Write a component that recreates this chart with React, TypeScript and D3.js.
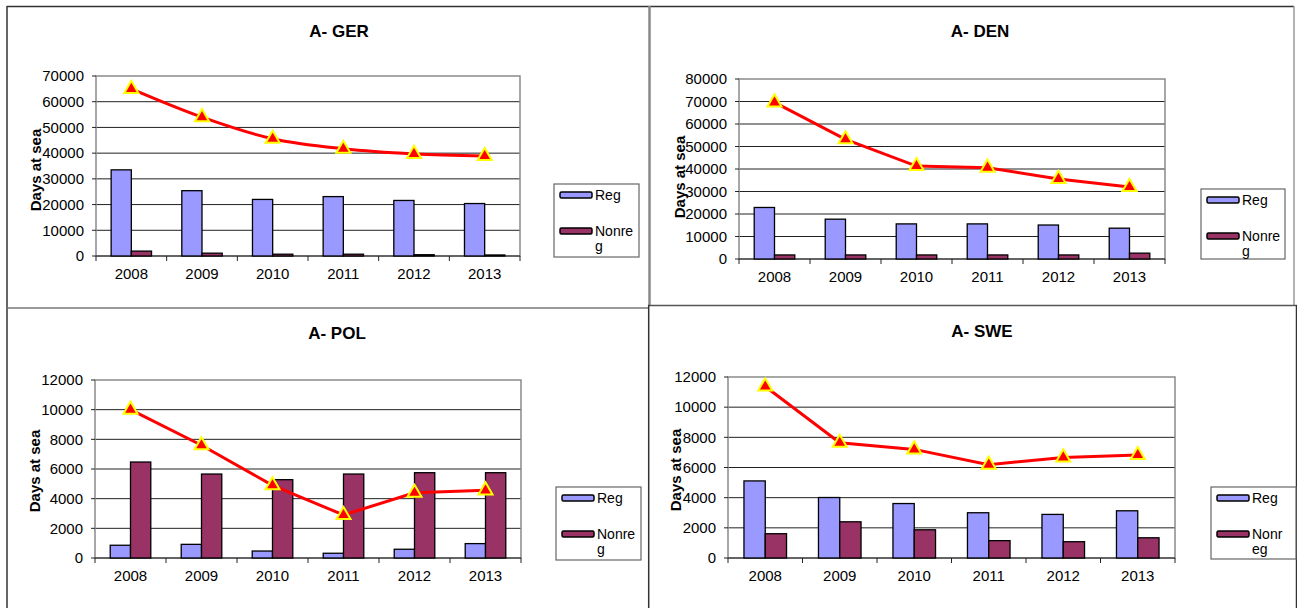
import React from 'react';
import * as d3 from 'd3';

// years on the x axis
const years = ['2008', '2009', '2010', '2011', '2012', '2013'];

// A- GER
const gerReg = [33500, 25400, 22000, 23100, 21600, 20400];
const gerNonreg = [1900, 1100, 700, 700, 500, 400];
const gerTotal = [65000, 54000, 45600, 41700, 39700, 38900];

// A- DEN
const denReg = [22900, 17700, 15600, 15600, 15100, 13700];
const denNonreg = [1800, 1800, 1800, 1800, 1800, 2600];
const denTotal = [69600, 53200, 41300, 40600, 35600, 32000];

// A- POL
const polReg = [860, 920, 470, 320, 590, 970];
const polNonreg = [6470, 5660, 5280, 5660, 5750, 5750];
const polTotal = [10000, 7600, 4900, 2900, 4400, 4560];

// A- SWE
const sweReg = [5110, 4010, 3610, 3000, 2890, 3130];
const sweNonreg = [1610, 2400, 1870, 1150, 1080, 1340];
const sweTotal = [11370, 7640, 7200, 6190, 6670, 6830];

const yMaxes = [70000, 80000, 12000, 12000];
const ySteps = [10000, 10000, 2000, 2000];
const titles = ['A- GER', 'A- DEN', 'A- POL', 'A- SWE'];
const legendNonreg = [['Nonre', 'g'], ['Nonre', 'g'], ['Nonre', 'g'], ['Nonr', 'eg']];
const smoothLine = [true, false, false, false];

const FONT = '"Liberation Sans", Arial, sans-serif';
const REG_FILL = '#9999FF';
const NONREG_FILL = '#993366';

// where each chart sits on the page
const layouts = [
  { plot: { x: 96, y: 76, w: 424, h: 180 }, title: { x: 339, y: 37 }, yTitle: { x: 41, y: 170 }, legend: { x: 554, y: 184, w: 85, h: 73 } },
  { plot: { x: 739, y: 79, w: 426, h: 180 }, title: { x: 980, y: 37 }, yTitle: { x: 685, y: 177 }, legend: { x: 1201, y: 189, w: 84, h: 70 } },
  { plot: { x: 95, y: 380, w: 426, h: 178 }, title: { x: 337, y: 339 }, yTitle: { x: 40, y: 471 }, legend: { x: 556, y: 487, w: 85, h: 73 } },
  { plot: { x: 728, y: 377, w: 447, h: 181 }, title: { x: 982, y: 337 }, yTitle: { x: 681, y: 470 }, legend: { x: 1211, y: 487, w: 85, h: 72 } },
];

const Panel = ({ layout, title, reg, nonreg, total, yMax, yStep, nonregLabel, smooth }) => {
  const { plot, legend } = layout;
  const x = d3.scaleBand().domain(years).range([plot.x, plot.x + plot.w]);
  const y = d3.scaleLinear().domain([0, yMax]).range([plot.y + plot.h, plot.y]);
  const ticks = d3.range(0, yMax + 1, yStep);
  const barW = x.bandwidth() / 3.5;
  const cx = (yr) => x(yr) + x.bandwidth() / 2;
  const bottom = plot.y + plot.h;

  const line = d3
    .line()
    .x((d, i) => cx(years[i]))
    .y((d) => y(d))
    .curve(smooth ? d3.curveMonotoneX : d3.curveLinear);
  const tri = d3.symbol().type(d3.symbolTriangle).size(85)();

  return (
    <g>
      <text x={layout.title.x} y={layout.title.y} textAnchor="middle" fontFamily={FONT} fontWeight="bold" fontSize={17}>{title}</text>

      {/* gridlines */}
      {ticks.slice(1, -1).map((t) => (
        <line key={t} x1={plot.x} x2={plot.x + plot.w} y1={y(t)} y2={y(t)} stroke="#222" strokeWidth={1} />
      ))}
      <rect x={plot.x} y={plot.y} width={plot.w} height={plot.h} fill="none" stroke="#8a8a8a" strokeWidth={1.5} />
      <line x1={plot.x} x2={plot.x + plot.w} y1={bottom} y2={bottom} stroke="#222" strokeWidth={1.2} />

      {/* y axis ticks and labels */}
      {ticks.map((t) => (
        <g key={t}>
          <line x1={plot.x - 4} x2={plot.x} y1={y(t)} y2={y(t)} stroke="#222" />
          <text x={plot.x - 12} y={y(t)} dy="0.35em" textAnchor="end" fontFamily={FONT} fontSize={15}>{t}</text>
        </g>
      ))}

      {/* x axis ticks and labels */}
      {years.map((yr) => (
        <g key={yr}>
          <line x1={x(yr)} x2={x(yr)} y1={bottom} y2={bottom + 5} stroke="#222" />
          <text x={cx(yr)} y={bottom + 23} textAnchor="middle" fontFamily={FONT} fontSize={15}>{yr}</text>
        </g>
      ))}
      <line x1={plot.x + plot.w} x2={plot.x + plot.w} y1={bottom} y2={bottom + 5} stroke="#222" />

      <text transform={`translate(${layout.yTitle.x},${layout.yTitle.y}) rotate(-90)`} textAnchor="middle" fontFamily={FONT} fontWeight="bold" fontSize={15}>Days at sea</text>

      {/* bars */}
      {years.map((yr, i) => (
        <g key={yr}>
          <rect x={cx(yr) - barW} y={y(reg[i])} width={barW} height={bottom - y(reg[i])} fill={REG_FILL} stroke="#000" strokeWidth={1.3} />
          <rect x={cx(yr)} y={y(nonreg[i])} width={barW} height={bottom - y(nonreg[i])} fill={NONREG_FILL} stroke="#000" strokeWidth={1.3} />
        </g>
      ))}

      {/* total line */}
      <path d={line(total)} fill="none" stroke="#FF0000" strokeWidth={3} />
      {total.map((v, i) => (
        <path key={i} d={tri} transform={`translate(${cx(years[i])},${y(v)})`} fill="#FF0000" stroke="#FFFF00" strokeWidth={2} />
      ))}

      {/* legend */}
      <rect x={legend.x} y={legend.y} width={legend.w} height={legend.h} fill="#fff" stroke="#666" strokeWidth={1.2} />
      <rect x={legend.x + 6} y={legend.y + 8} width={32} height={6} rx={1.5} fill={REG_FILL} stroke="#000" strokeWidth={1.5} />
      <text x={legend.x + 41} y={legend.y + 16} fontFamily={FONT} fontSize={14}>Reg</text>
      <rect x={legend.x + 6} y={legend.y + 44} width={32} height={6} rx={1.5} fill={NONREG_FILL} stroke="#000" strokeWidth={1.5} />
      <text x={legend.x + 41} y={legend.y + 52} fontFamily={FONT} fontSize={14}>{nonregLabel[0]}</text>
      <text x={legend.x + 41} y={legend.y + 67} fontFamily={FONT} fontSize={14}>{nonregLabel[1]}</text>
    </g>
  );
};

export default function App() {
  const series = [
    [gerReg, gerNonreg, gerTotal],
    [denReg, denNonreg, denTotal],
    [polReg, polNonreg, polTotal],
    [sweReg, sweNonreg, sweTotal],
  ];
  return (
    <svg width={1297} height={608} style={{ position: 'absolute', left: 0, top: 0, background: '#fff' }}>
      {/* panel frames */}
      <line x1={7} x2={650} y1={6.5} y2={6.5} stroke="#333" strokeWidth={1.5} />
      <line x1={7} x2={7} y1={6} y2={608} stroke="#333" strokeWidth={1.5} />
      <line x1={650} x2={1294} y1={6.5} y2={6.5} stroke="#333" strokeWidth={1.5} />
      <line x1={649.5} x2={649.5} y1={6} y2={306} stroke="#888" strokeWidth={2.5} />
      <line x1={1294} x2={1294} y1={6} y2={305} stroke="#999" strokeWidth={1.5} />
      <line x1={7} x2={649} y1={308} y2={308} stroke="#777" strokeWidth={1.5} />
      <line x1={648} x2={1297} y1={305.5} y2={305.5} stroke="#555" strokeWidth={1.5} />
      <line x1={648.7} x2={648.7} y1={305} y2={608} stroke="#333" strokeWidth={1.5} />
      <line x1={1296.5} x2={1296.5} y1={305} y2={608} stroke="#333" strokeWidth={1.5} />

      {layouts.map((l, i) => (
        <Panel
          key={titles[i]}
          layout={l}
          title={titles[i]}
          reg={series[i][0]}
          nonreg={series[i][1]}
          total={series[i][2]}
          yMax={yMaxes[i]}
          yStep={ySteps[i]}
          nonregLabel={legendNonreg[i]}
          smooth={smoothLine[i]}
        />
      ))}
    </svg>
  );
}
